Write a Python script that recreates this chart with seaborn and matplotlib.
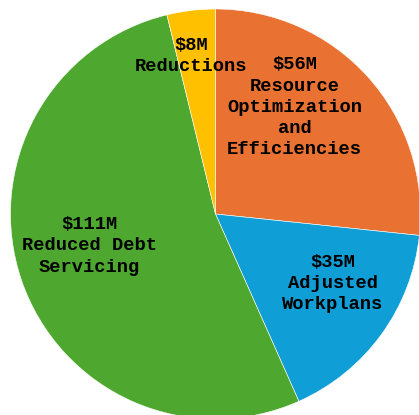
import matplotlib
matplotlib.use("Agg")
import matplotlib.pyplot as plt
import seaborn as sns

sns.set_theme(style="white")
plt.rcParams['font.family'] = ['Liberation Mono', 'DejaVu Sans Mono']

# Budget solution components (in $M), clockwise from 12 o'clock
categories = ["Resource\nOptimization\nand\nEfficiencies", "Adjusted\nWorkplans",
              "Reduced Debt\nServicing", "Reductions"]
values = [56, 35, 111, 8]
colors = ["#E97132", "#0F9ED5", "#4EA72E", "#FFC000"]

# label anchor points (data units, pie radius = 1)
label_pos = [(0.385, 0.52), (0.573, -0.34), (-0.617, -0.155), (-0.12, 0.772)]

W, H = 419, 415
fig = plt.figure(figsize=(W / 100, H / 100), dpi=100)
ax = fig.add_axes([0, 0, 1, 1])

cx, cy, r = 215.5, 214, 205  # pie centre / radius in pixels
ax.pie(values, colors=colors, startangle=90, counterclock=False,
       radius=1, wedgeprops=dict(linewidth=0.4, edgecolor="white"))
ax.set_xlim(-cx / r, (W - cx) / r)
ax.set_ylim(-(H - cy) / r, cy / r)
ax.set_aspect("auto")
ax.axis("off")

for cat, val, (x, y) in zip(categories, values, label_pos):
    ax.text(x, y, f"${val}M\n{cat}", ha="center", va="center",
            fontsize=13.5, fontweight="bold", color="black", linespacing=1.33)

fig.savefig("out.png", dpi=100)
